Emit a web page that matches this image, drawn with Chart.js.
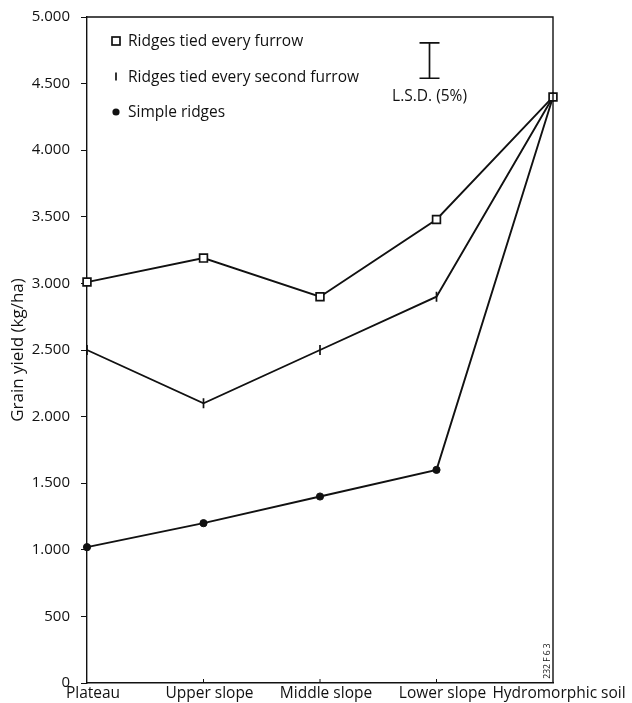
<!DOCTYPE html>
<html>
<head>
<meta charset="utf-8">
<script src="https://cdn.jsdelivr.net/npm/chart.js@4"></script>
<style>
  html, body { margin: 0; padding: 0; background: #fff; }
  #wrap { width: 632px; height: 703px; position: relative; }
</style>
</head>
<body>
<div id="wrap"><canvas id="c"></canvas></div>
<script>
const categories = ["Plateau", "Upper slope", "Middle slope", "Lower slope", "Hydromorphic soil"];
const tiedEveryFurrow = [3010, 3190, 2900, 3480, 4400];
const tiedEverySecond = [2500, 2100, 2500, 2900, 4400];
const simpleRidges = [1020, 1200, 1400, 1600, 4400];
const seriesNames = ["Ridges tied every furrow", "Ridges tied every second furrow", "Simple ridges"];
const yTicks = [0, 500, 1000, 1500, 2000, 2500, 3000, 3500, 4000, 4500, 5000];
const lsdValue = 265;       // L.S.D. (5%) bar length in kg/ha
const lsdTop = 4805;
const lsdXPos = 2.94;       // in category index units
const figureCode = "232 F 6 3";

const FONT = "'Open Sans', 'DejaVu Sans', sans-serif";

function fmt(v) {
  if (v >= 1000) {
    const th = Math.floor(v / 1000);
    const rest = String(v % 1000).padStart(3, '0');
    return th + '.' + rest;
  }
  return String(v);
}

const extras = {
  id: 'extras',
  afterDraw(chart) {
    const ctx = chart.ctx;
    const a = chart.chartArea;
    const xs = chart.scales.x, ys = chart.scales.y;
    ctx.save();
    ctx.strokeStyle = '#111';
    ctx.lineWidth = 1.4;
    ctx.beginPath();
    ctx.moveTo(a.left, a.top); ctx.lineTo(a.right, a.top);
    ctx.lineTo(a.right, a.bottom);
    ctx.stroke();
    ctx.lineWidth = 1;
    for (let i = 1; i < categories.length - 1; i++) {
      const px = xs.getPixelForValue(i);
      ctx.beginPath(); ctx.moveTo(px, a.bottom); ctx.lineTo(px, a.bottom - 4); ctx.stroke();
    }
    const lx = a.left + 29;
    const rows = [a.top + 24, a.top + 59.5, a.top + 95];
    ctx.fillStyle = '#111';
    ctx.font = "15.5px " + FONT;
    ctx.textBaseline = 'middle';
    ctx.textAlign = 'left';
    ctx.lineWidth = 1.7;
    ctx.strokeRect(lx - 4, rows[0] - 4, 8, 8);
    ctx.beginPath(); ctx.moveTo(lx, rows[1] - 4); ctx.lineTo(lx, rows[1] + 4); ctx.stroke();
    ctx.beginPath(); ctx.arc(lx, rows[2], 3.6, 0, Math.PI * 2); ctx.fill();
    seriesNames.forEach((n, i) => ctx.fillText(n, lx + 12, rows[i] + 1));
    const bx = xs.getPixelForValue(lsdXPos);
    const y1 = ys.getPixelForValue(lsdTop), y2 = ys.getPixelForValue(lsdTop - lsdValue);
    ctx.lineWidth = 1.7;
    ctx.beginPath();
    ctx.moveTo(bx - 10, y1); ctx.lineTo(bx + 10, y1);
    ctx.moveTo(bx, y1); ctx.lineTo(bx, y2);
    ctx.moveTo(bx - 10, y2); ctx.lineTo(bx + 10, y2);
    ctx.stroke();
    ctx.textAlign = 'center';
    ctx.font = "15.5px " + FONT;
    ctx.fillText("L.S.D. (5%)", bx, y2 + 18);
    ctx.save();
    ctx.translate(a.right - 5, a.bottom - 22);
    ctx.rotate(-Math.PI / 2);
    ctx.font = "8.5px " + FONT;
    ctx.textAlign = 'center';
    ctx.fillText(figureCode, 0, 0);
    ctx.restore();
    ctx.restore();
  }
};

const common = { borderColor: '#111', borderWidth: 1.9, tension: 0, fill: false };

new Chart(document.getElementById('c'), {
  type: 'line',
  data: {
    labels: categories,
    datasets: [
      Object.assign({ label: seriesNames[0], data: tiedEveryFurrow, pointStyle: 'rect', pointRadius: 5.5,
        pointBackgroundColor: '#fff', pointBorderColor: '#111', pointBorderWidth: 1.7 }, common),
      Object.assign({ label: seriesNames[1], data: tiedEverySecond, pointStyle: 'line', pointRadius: 5,
        pointRotation: 90, pointBorderColor: '#111', pointBorderWidth: 1.7 }, common),
      Object.assign({ label: seriesNames[2], data: simpleRidges, pointStyle: 'circle', pointRadius: 3.6,
        pointBackgroundColor: '#111', pointBorderColor: '#111', pointBorderWidth: 1 }, common)
    ]
  },
  options: {
    responsive: true,
    maintainAspectRatio: false,
    animation: false,
    layout: { padding: { top: 17, right: 79, left: 0, bottom: 0 } },
    plugins: { legend: { display: false }, tooltip: { enabled: false } },
    scales: {
      x: {
        type: 'category',
        offset: false,
        grid: { display: false, offset: false, tickLength: 0 },
        border: { display: true, color: '#111', width: 1.4 },
        ticks: { color: '#111', font: { family: FONT, size: 15.5 }, padding: 1, labelOffset: 6, maxRotation: 0, autoSkip: false },
        afterFit(s) { s.height = 20; s.paddingLeft = 0; s.paddingRight = 0; }
      },
      y: {
        min: 0, max: 5000,
        afterBuildTicks(s) { s.ticks = yTicks.map(v => ({ value: v })); },
        grid: { drawOnChartArea: false, tickLength: 6, color: '#111', lineWidth: 1 },
        border: { display: true, color: '#111', width: 1.4 },
        ticks: { color: '#111', font: { family: FONT, size: 15 }, padding: 11, callback: v => fmt(v) },
        title: { display: true, text: 'Grain yield (kg/ha)', color: '#111', font: { family: FONT, size: 17 }, padding: { top: 8, bottom: 0 } },
        afterFit(s) { s.width = 87; s.paddingTop = 0; s.paddingBottom = 0; }
      }
    }
  },
  plugins: [extras]
});
</script>
</body>
</html>
